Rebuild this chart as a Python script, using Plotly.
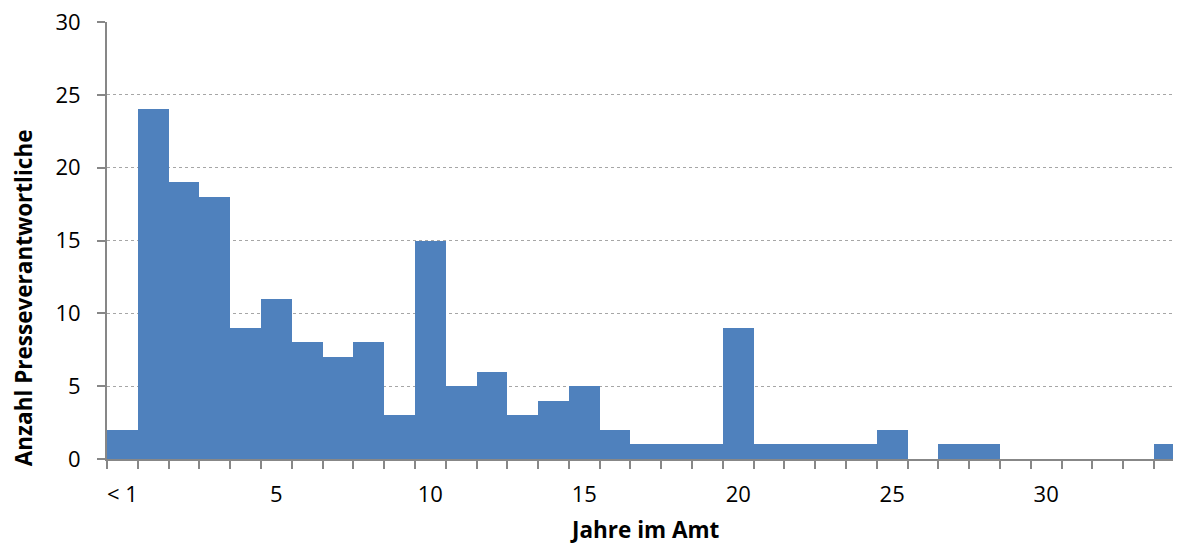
import plotly.graph_objects as go

# Data
categories = list(range(0, 35))  # 0 = "< 1" year, then 1 ... 34 years
counts = [2, 24, 19, 18, 9, 11, 8, 7, 8, 3,
          15, 5, 6, 3, 4, 5, 2, 1, 1, 1,
          9, 1, 1, 1, 1, 2, 0, 1, 1, 0,
          0, 0, 0, 0, 1]
tick_positions = [0, 5, 10, 15, 20, 25, 30]
tick_labels = ["< 1", "5", "10", "15", "20", "25", "30"]
x_title = "Jahre im Amt"
y_title = "Anzahl Presseverantwortliche"

FONT = "Open Sans"
AXIS_GRAY = "#878787"

fig = go.Figure()
fig.add_trace(go.Bar(
    x=categories,
    y=counts,
    width=1.0,
    marker=dict(color="#4F81BD", line=dict(width=0)),
    showlegend=False,
    hoverinfo="x+y",
))

fig.update_layout(
    width=1173,
    height=537,
    margin=dict(l=99, r=0, t=14, b=86, autoexpand=False),
    paper_bgcolor="white",
    plot_bgcolor="white",
    bargap=0,
    font=dict(family=FONT, color="black", size=22),
    xaxis=dict(
        automargin=False,
        range=[-0.5, 34.38],
        tickmode="array",
        tickvals=tick_positions,
        ticktext=tick_labels,
        ticks="",
        showgrid=False,
        zeroline=False,
        showline=True,
        linecolor=AXIS_GRAY,
        linewidth=2,
        tickfont=dict(family=FONT, size=22, color="black"),
        ticklabelstandoff=15,
        ticklabeloverflow="allow",
        minor=dict(
            tickmode="linear",
            tick0=-0.5,
            dtick=1,
            ticks="outside",
            ticklen=8,
            tickwidth=2,
            tickcolor=AXIS_GRAY,
            showgrid=False,
        ),
    ),
    yaxis=dict(
        automargin=False,
        range=[0, 30],
        tickmode="linear",
        tick0=0,
        dtick=5,
        ticks="outside",
        ticklen=8,
        tickwidth=2,
        tickcolor=AXIS_GRAY,
        showline=True,
        linecolor=AXIS_GRAY,
        linewidth=2,
        showgrid=True,
        gridcolor="#A6A6A6",
        gridwidth=1,
        griddash="dot",
        zeroline=False,
        tickfont=dict(family=FONT, size=22, color="black"),
        ticklabelstandoff=12,
        ticklabeloverflow="allow",
    ),
    annotations=[
        dict(
            text="<b>" + x_title + "</b>",
            xref="paper", yref="paper",
            x=0.5009, y=-0.161,
            xanchor="center", yanchor="middle",
            showarrow=False,
            font=dict(family=FONT, size=22.5, color="black"),
        ),
        dict(
            text="<b>" + y_title + "</b>",
            xref="paper", yref="paper",
            x=-0.0782, y=0.368,
            xanchor="center", yanchor="middle",
            textangle=-90,
            showarrow=False,
            font=dict(family=FONT, size=22.5, color="black"),
        ),
    ],
)

fig.write_html("out.html")
